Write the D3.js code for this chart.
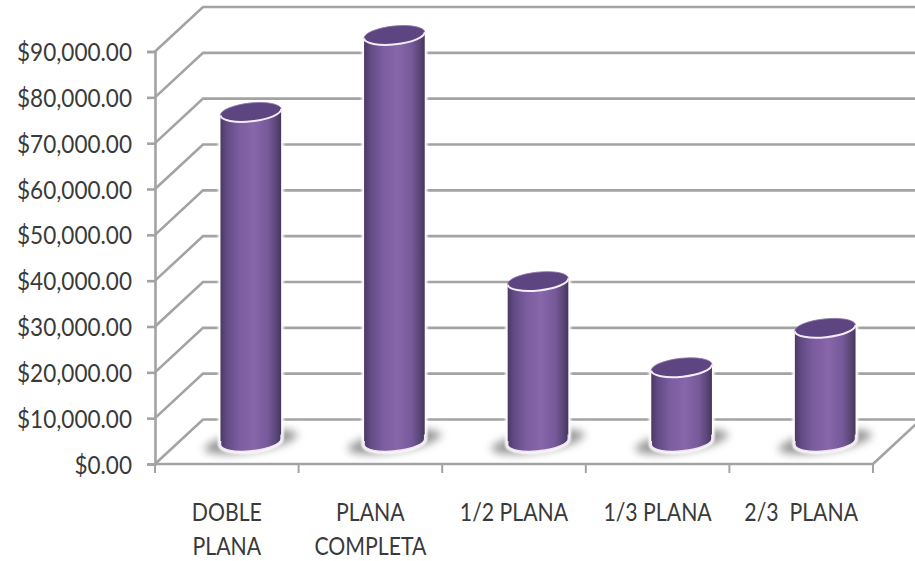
<!DOCTYPE html>
<html>
<head>
<meta charset="utf-8">
<script src="https://cdn.jsdelivr.net/npm/d3@7"></script>
<style>
html,body{margin:0;padding:0;background:#fff;}
svg{display:block;}
text{font-family:Lato,"Open Sans",sans-serif;fill:#3a3a3a;}
</style>
</head>
<body>
<script>
// Advertising cost per page size
const categories = ["DOBLE PLANA", "PLANA COMPLETA", "1/2 PLANA", "1/3 PLANA", "2/3 PLANA"];
const labelLines = [["DOBLE", "PLANA"], ["PLANA", "COMPLETA"], ["1/2 PLANA"], ["1/3 PLANA"], ["2/3  PLANA"]];
const values = [71900, 88700, 35000, 16200, 24800];
const tickValues = [0, 10000, 20000, 30000, 40000, 50000, 60000, 70000, 80000, 90000];

const width = 915, height = 561;
const depthX = 48, depthY = -44.5;
const gridColor = "#a3a3a3";

const x = d3.scaleBand().domain(categories).range([155, 873]);
const y = d3.scaleLinear().domain([0, 90000]).range([464, 51.5]);

const svg = d3.select("body").append("svg").attr("width", width).attr("height", height);
const defs = svg.append("defs");

// Narrows text horizontally while keeping its height
function condense(sel, factor) {
  sel.each(function () {
    this.setAttribute("textLength", this.getComputedTextLength() * factor);
    this.setAttribute("lengthAdjust", "spacingAndGlyphs");
  });
}

// Cylinder shading runs left to right across each bar
const grad = defs.append("linearGradient").attr("id", "cyl");
[[0, "#4a3a66"], [0.1, "#614a83"], [0.3, "#7a5c9f"], [0.55, "#8766aa"], [0.78, "#765a9a"], [0.92, "#5a4676"], [1, "#43365c"]]
  .forEach(([o, c]) => grad.append("stop").attr("offset", o).attr("stop-color", c));

defs.append("filter").attr("id", "soft")
  .attr("x", "-30%").attr("y", "-80%").attr("width", "160%").attr("height", "260%")
  .append("feGaussianBlur").attr("stdDeviation", 4);
defs.append("filter").attr("id", "halo")
  .attr("x", "-20%").attr("y", "-20%").attr("width", "140%").attr("height", "140%")
  .append("feGaussianBlur").attr("stdDeviation", 1.2);

// Left wall and back wall gridlines
svg.append("g").selectAll("path").data(tickValues).join("path")
  .attr("fill", "none")
  .attr("stroke", gridColor)
  .attr("stroke-width", 2.6)
  .attr("d", d => {
    const p = d3.path();
    p.moveTo(x.range()[0], y(d));
    p.lineTo(x.range()[0] + depthX, y(d) + depthY);
    p.lineTo(width, y(d) + depthY);
    return p.toString();
  });

// Right edge of the floor
svg.append("line")
  .attr("x1", x.range()[1]).attr("y1", y(0))
  .attr("x2", x.range()[1] + depthX).attr("y2", y(0) + depthY)
  .attr("stroke", gridColor).attr("stroke-width", 2.6);

// Value axis
const yAxis = svg.append("g").attr("transform", `translate(${x.range()[0]},0)`)
  .call(d3.axisLeft(y).tickValues(tickValues).tickFormat(d3.format("$,.2f")).tickSize(8).tickPadding(15));
yAxis.selectAll("path,line").attr("stroke", gridColor).attr("stroke-width", 2.6);
const yText = yAxis.selectAll("text").attr("font-size", 25).attr("dy", "0.36em");
const yFactor = 115 / d3.max(yText.nodes(), n => n.getComputedTextLength());
condense(yText, yFactor);

// Category axis: tick marks sit on band boundaries
const xAxis = svg.append("g").attr("transform", `translate(0,${y(0)})`);
xAxis.append("line").attr("x1", x.range()[0]).attr("x2", x.range()[1])
  .attr("stroke", gridColor).attr("stroke-width", 2.6);
xAxis.selectAll("line.tick").data(categories.concat([null])).join("line").attr("class", "tick")
  .attr("x1", (d, i) => x.range()[0] + i * x.step())
  .attr("x2", (d, i) => x.range()[0] + i * x.step())
  .attr("y1", 0).attr("y2", 9)
  .attr("stroke", gridColor).attr("stroke-width", 2);

// Category labels, one text element per line
const labelRows = categories.flatMap((c, i) => labelLines[i].map((t, row) => ({ c, t, row })));
const labels = svg.append("g").selectAll("text").data(labelRows).join("text")
  .attr("text-anchor", "middle")
  .attr("font-size", 25)
  .attr("x", d => x(d.c) + x.bandwidth() / 2)
  .attr("y", d => 521 + d.row * 34)
  .style("white-space", "pre")
  .text(d => d.t);
const completa = labels.filter(d => d.t === "COMPLETA").node().getComputedTextLength();
condense(labels, 112 / completa);

// Cylinders
const rx = 30.5, ry = 9.2, tilt = -6;
const rad = tilt * Math.PI / 180;
const ex = rx * Math.cos(rad), ey = rx * Math.sin(rad);
const bars = svg.append("g").selectAll("g").data(categories).join("g")
  .attr("transform", d => `translate(${x(d) + x.bandwidth() / 2 + depthX / 2},${y(0) + depthY / 2})`);

const topY = (i) => y(values[i]) - y(0);

function bodyPath(i) {
  const t = topY(i);
  return `M${-ex},${t - ey}L${-ex},${-ey}A${rx},${ry} ${tilt} 0 0 ${ex},${ey}L${ex},${t + ey}A${rx},${ry} ${tilt} 0 1 ${-ex},${t - ey}Z`;
}

// Soft floor shadow under each cylinder
bars.append("ellipse")
  .attr("cx", 0).attr("cy", 0)
  .attr("rx", 47).attr("ry", 10)
  .attr("transform", "rotate(-9)")
  .attr("fill", "#969696")
  .attr("filter", "url(#soft)");

bars.append("path")
  .attr("d", (d, i) => bodyPath(i))
  .attr("fill", "none").attr("stroke", "#fff").attr("stroke-width", 5)
  .attr("filter", "url(#halo)");

bars.append("path")
  .attr("d", (d, i) => bodyPath(i))
  .attr("fill", "url(#cyl)");

// Pale rim along the base
bars.append("path")
  .attr("d", `M${-ex},${-ey - 4}L${-ex},${-ey}A${rx},${ry} ${tilt} 0 0 ${ex},${ey}L${ex},${ey - 4}`)
  .attr("fill", "none").attr("stroke", "#efe6f4").attr("stroke-width", 1.6);

// Top face with its pale lower rim
bars.append("ellipse")
  .attr("rx", rx).attr("ry", ry)
  .attr("transform", (d, i) => `translate(0,${topY(i)}) rotate(${tilt})`)
  .attr("fill", "#5c4580").attr("stroke", "#8a74a6").attr("stroke-width", 0.8);

bars.append("path")
  .attr("d", (d, i) => {
    const t = topY(i);
    return `M${-ex},${t - ey}A${rx},${ry} ${tilt} 0 0 ${ex},${t + ey}`;
  })
  .attr("fill", "none").attr("stroke", "#f3ecf6").attr("stroke-width", 2);
</script>
</body>
</html>
